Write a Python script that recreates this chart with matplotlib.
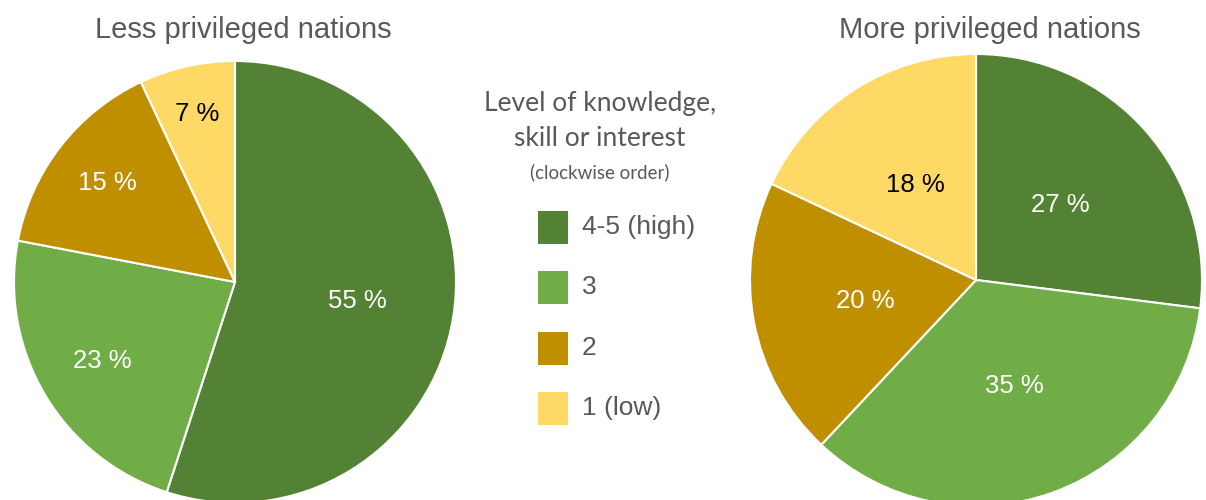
import numpy as np
import matplotlib.pyplot as plt
from matplotlib.patches import Rectangle

# data
levels = ['4-5 (high)', '3', '2', '1 (low)']
colors = ['#548235', '#70AD47', '#BF8F00', '#FFD966']
less_priv = [55, 23, 15, 7]
more_priv = [27, 35, 20, 18]

plt.rcParams['font.family'] = ['Liberation Sans', 'DejaVu Sans']
grey = '#595959'

fig = plt.figure(figsize=(12.06, 5.0), dpi=100)
ax = fig.add_axes([0, 0, 1, 1])


def draw_pie(vals, center, radius, dists, title, title_x):
    wedges, _ = ax.pie(vals, colors=colors, startangle=90, counterclock=False,
                       center=center, radius=radius,
                       wedgeprops=dict(edgecolor='white', linewidth=1.5))
    for w, v, d in zip(wedges, vals, dists):
        ang = np.deg2rad((w.theta1 + w.theta2) / 2)
        x = center[0] + d * radius * np.cos(ang)
        y = center[1] + d * radius * np.sin(ang)
        tc = 'black' if w.get_facecolor()[0] > 0.95 else 'white'
        ax.text(x, y, f'{v} %', ha='center', va='center', fontsize=18.5, color=tc)
    ax.text(title_x, 500 - 30, title, ha='center', va='center', fontsize=21, color=grey)
    return wedges


draw_pie(less_priv, (235, 218), 221, [0.56, 0.70, 0.73, 0.78],
         'Less privileged nations', 243)
draw_pie(more_priv, (976, 220), 226, [0.5, 0.5, 0.5, 0.5],
         'More privileged nations', 990)

# pie() resets the limits, so set them afterwards
ax.set_xlim(0, 1206)
ax.set_ylim(0, 500)
ax.set_aspect('equal')
ax.axis('off')

# legend
ax.text(600, 500 - 104, 'Level of knowledge,', ha='center', va='center',
        fontsize=19, color=grey, family=['Lato', 'DejaVu Sans'])
ax.text(600, 500 - 138, 'skill or interest', ha='center', va='center',
        fontsize=19, color=grey, family=['Lato', 'DejaVu Sans'])
ax.text(600, 500 - 172, '(clockwise order)', ha='center', va='center',
        fontsize=13.5, color=grey, family=['Lato', 'DejaVu Sans'])
for i, (lvl, col) in enumerate(zip(levels, colors)):
    yc = 500 - (227 + i * 60.5)
    ax.add_patch(Rectangle((538, yc - 16.5), 30, 33, facecolor=col, edgecolor='none'))
    ax.text(582, yc, lvl, ha='left', va='center', fontsize=19, color=grey)

fig.savefig('out.png', dpi=100)
